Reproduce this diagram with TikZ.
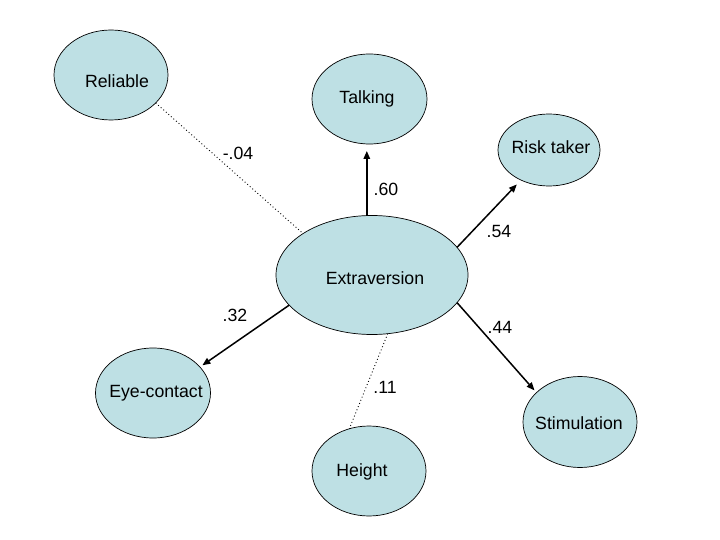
\documentclass[tikz,border=0pt]{standalone}
\usepackage{fontspec}
\setmainfont{Liberation Sans}
\usetikzlibrary{shapes.geometric,arrows.meta}
\definecolor{ovalfill}{RGB}{190,224,228}
\tikzset{
  oval/.style={ellipse,draw=black,line width=0.7pt,fill=ovalfill,inner sep=0pt,outer sep=0pt},
  txt/.style={inner sep=0pt,font=\fontsize{17.7pt}{20pt}\selectfont},
  path/.style={line width=1.5pt,-{Triangle[length=8pt,width=6.5pt]}},
  weak/.style={line width=0.9pt,dash pattern=on 0.9pt off 2.5pt},
}
\begin{document}
\begin{tikzpicture}[x=1pt,y=-1pt]
\useasboundingbox (0,0) rectangle (720,540);
% ellipses
\node[oval,minimum width=114pt,minimum height=90pt] (rel) at (111,75) {};
\node[oval,minimum width=115pt,minimum height=90pt] (talk) at (369.5,99) {};
\node[oval,minimum width=102pt,minimum height=72pt] (risk) at (549,150) {};
\node[oval,minimum width=192pt,minimum height=119pt] (ext) at (372,275) {};
\node[oval,minimum width=115pt,minimum height=90pt] (eye) at (153,393) {};
\node[oval,minimum width=114pt,minimum height=91pt] (stim) at (580,422) {};
\node[oval,minimum width=114pt,minimum height=90pt] (hgt) at (369,471) {};
% texts
\node[txt] (relT) at (117,81) {Reliable};
\node[txt] (talkT) at (367,99) {Talking};
\node[txt] (riskT) at (551,147) {Risk taker};
\node[txt] (extT) at (375,278) {Extraversion};
\node[txt] (eyeT) at (156,393) {Eye-contact};
\node[txt] (stimT) at (579,423) {Stimulation};
\node[txt] (hgtT) at (362,472) {Height};
% connectors
\draw[weak] (rel.-32) -- (ext.149);
\draw[weak] (ext.-75) -- (hgt.115);
\draw[path,shorten >=7pt] (ext.95) -- (ext.95 |- talk.south);
\draw[path,shorten >=6pt] (ext.18) -- (risk.227);
\draw[path,shorten >=3pt] (ext.-18) -- (stim.146);
\draw[path,shorten >=3pt] (ext.200) -- (eye.29);
% coefficients
\node[txt] (l1) at (238,153) {-.04};
\node[txt] (l2) at (386,189) {.60};
\node[txt] (l3) at (499,231) {.54};
\node[txt] (l4) at (500,327) {.44};
\node[txt] (l5) at (235,315) {.32};
\node[txt] (l6) at (385,387) {.11};
\end{tikzpicture}
\end{document}
